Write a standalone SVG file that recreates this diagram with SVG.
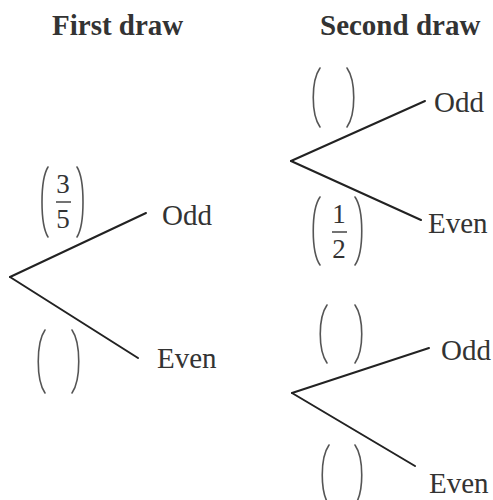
<svg xmlns="http://www.w3.org/2000/svg" width="493" height="500" viewBox="0 0 493 500">
<style>
.t{font-family:"Liberation Serif","Times New Roman",serif;fill:#333;}
.h{font-size:29px;font-weight:bold;}
.l{font-size:29px;}
.f{font-size:27px;text-anchor:middle;}
.br{fill:none;stroke:#555;stroke-width:1.6;stroke-linecap:round;}
.e{stroke:#222;stroke-width:2;fill:none;stroke-linecap:round;}
.fl{stroke:#444;stroke-width:1.5;}
</style>
<rect width="493" height="500" fill="#fff"/>
<g id="titles">
<text class="t h" x="52" y="35">First draw</text>
<text class="t h" x="320" y="35">Second draw</text>
</g>
<g id="connectors">
<line class="e" x1="10" y1="277" x2="146" y2="213"/>
<line class="e" x1="10" y1="277" x2="138" y2="358"/>
<line class="e" x1="291" y1="161" x2="425" y2="101"/>
<line class="e" x1="291" y1="161" x2="421" y2="220"/>
<line class="e" x1="292" y1="393" x2="429" y2="348"/>
<line class="e" x1="292" y1="393" x2="415" y2="466"/>
</g>
<g id="labels">
<text class="t l" x="162" y="225">Odd</text>
<text class="t l" x="157" y="368">Even</text>
<text class="t l" x="434" y="112">Odd</text>
<text class="t l" x="428" y="233">Even</text>
<text class="t l" x="441" y="360">Odd</text>
<text class="t l" x="429" y="493">Even</text>
</g>
<g id="p1">
<path class="br" d="M48,167 C40,180 40,224 48,237"/>
<path class="br" d="M77,167 C85,180 85,224 77,237"/>
<text class="t f" x="63" y="193">3</text>
<line class="fl" x1="56" y1="202" x2="71" y2="202"/>
<text class="t f" x="63" y="228">5</text>
</g>
<g id="p2">
<path class="br" d="M45,330 C36,343 36,380 45,393"/>
<path class="br" d="M72,330 C81,343 81,380 72,393"/>
</g>
<g id="p3">
<path class="br" d="M320,68 C311,81 311,114 320,127"/>
<path class="br" d="M347,68 C356,81 356,114 347,127"/>
</g>
<g id="p4">
<path class="br" d="M320,197 C311,210 311,252 320,265"/>
<path class="br" d="M355,197 C364,210 364,252 355,265"/>
<text class="t f" x="339" y="223">1</text>
<line class="fl" x1="332" y1="232" x2="347" y2="232"/>
<text class="t f" x="339" y="258">2</text>
</g>
<g id="p5">
<path class="br" d="M327,305 C318,318 318,350 327,363"/>
<path class="br" d="M355,305 C364,318 364,350 355,363"/>
</g>
<g id="p6">
<path class="br" d="M329,445 C320,458 320,492 329,505"/>
<path class="br" d="M355,445 C364,458 364,492 355,505"/>
</g>
</svg>
